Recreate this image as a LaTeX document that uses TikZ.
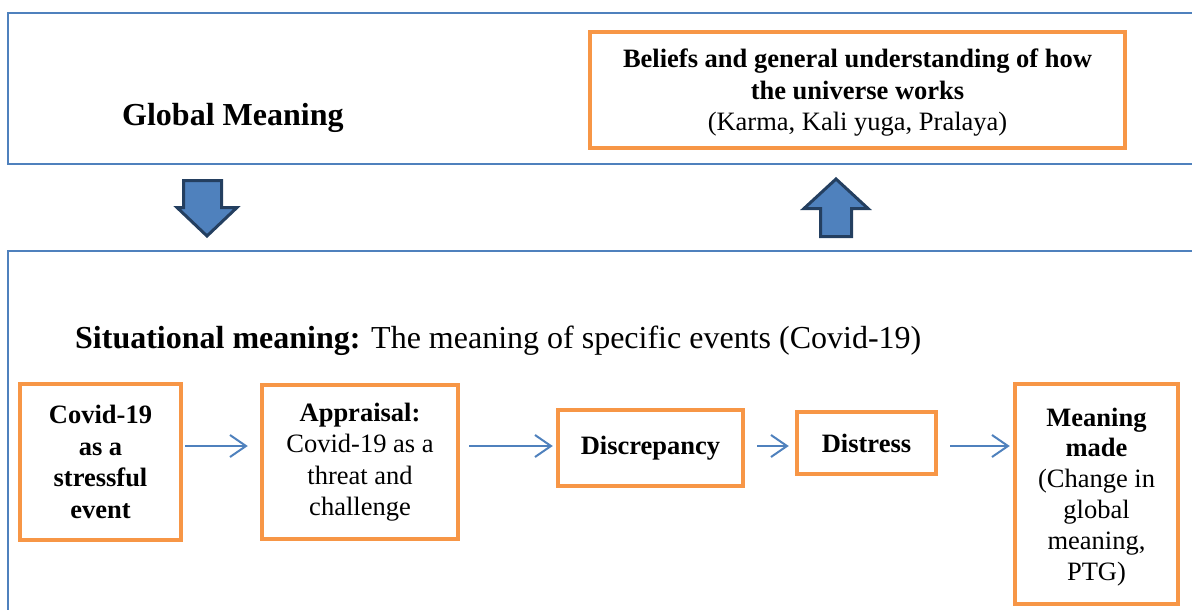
\documentclass[tikz,border=0pt]{standalone}
\usepackage{fontspec}
\setmainfont{Liberation Serif}
\usetikzlibrary{arrows.meta}
\definecolor{frameblue}{HTML}{4F81BD}
\definecolor{darkblue}{HTML}{243F60}
\definecolor{boxorange}{HTML}{F79646}
\tikzset{
  obox/.style={draw=boxorange, line width=4.5pt, rectangle, inner sep=0pt, align=center,
    font=\fontsize{26.5}{31.5}\selectfont},
  frame/.style={draw=frameblue, line width=1.6pt},
  conn/.style={draw=frameblue, line width=2pt, -{Straight Barb[length=16pt,width=22pt,line width=2pt]}},
  blockarrow/.style={fill=frameblue, draw=darkblue, line width=3pt, line join=miter},
  bigtext/.style={font=\fontsize{32}{38}\selectfont, inner sep=0pt}
}
\begin{document}
\begin{tikzpicture}[x=1pt,y=-1pt]
\useasboundingbox (0,0) rectangle (1192,610);
% frames
\draw[frame] (1210,13) -- (8,13) -- (8,164) -- (1210,164);
\draw[frame] (1210,251) -- (8,251) -- (8,630);
% labels
\node[bigtext, anchor=base west] (gm) at (122,125) {\textbf{Global Meaning}};
\node[bigtext, anchor=base west] (sm) at (75,348) {\textbf{Situational meaning:} The meaning of specific events (Covid-19)};
% top box
\node[obox, minimum width=535pt, minimum height=116pt] (beliefs) at (857.5,90)
  {\rule{0pt}{24.5pt}\textbf{Beliefs and general understanding of how}\\\textbf{the universe works}\\(Karma, Kali yuga, Pralaya)};
% block arrows
\draw[blockarrow] (183.5,180.5) -- (221.5,180.5) -- (221.5,207.5) -- (237,207.5) -- (207,236) -- (177,207.5) -- (183.5,207.5) -- cycle;
\draw[blockarrow] (820.5,236.5) -- (851.5,236.5) -- (851.5,208.5) -- (868,208.5) -- (836,179) -- (804,208.5) -- (820.5,208.5) -- cycle;
% bottom boxes
\node[obox, minimum width=161pt, minimum height=156pt] (c1) at (100.5,462)
  {\textbf{Covid-19}\\\textbf{as a}\\\textbf{stressful}\\\textbf{event}};
\node[obox, minimum width=196pt, minimum height=154pt] (c2) at (360,462)
  {\textbf{Appraisal:}\\Covid-19 as a\\threat and\\challenge};
\node[obox, minimum width=185pt, minimum height=76pt] (c3) at (650.5,448)
  {\textbf{Discrepancy}};
\node[obox, minimum width=139pt, minimum height=62pt] (c4) at (866.5,443)
  {\textbf{Distress}};
\node[obox, minimum width=163pt, minimum height=220pt,
      font=\fontsize{26.5}{30.8}\selectfont] (c5) at (1096.5,494)
  {\rule{0pt}{24pt}\textbf{Meaning}\\\textbf{made}\\(Change in\\global\\meaning,\\PTG)};
% connectors
\coordinate (ay) at (0,446);
\draw[conn] ([xshift=2pt]c1.east |- ay) -- ([xshift=-12pt]c2.west |- ay);
\draw[conn] ([xshift=9pt]c2.east |- ay) -- ([xshift=-3pt]c3.west |- ay);
\draw[conn] ([xshift=12pt]c3.east |- ay) -- ([xshift=-6pt]c4.west |- ay);
\draw[conn] ([xshift=12pt]c4.east |- ay) -- ([xshift=-3pt]c5.west |- ay);
\end{tikzpicture}
\end{document}
